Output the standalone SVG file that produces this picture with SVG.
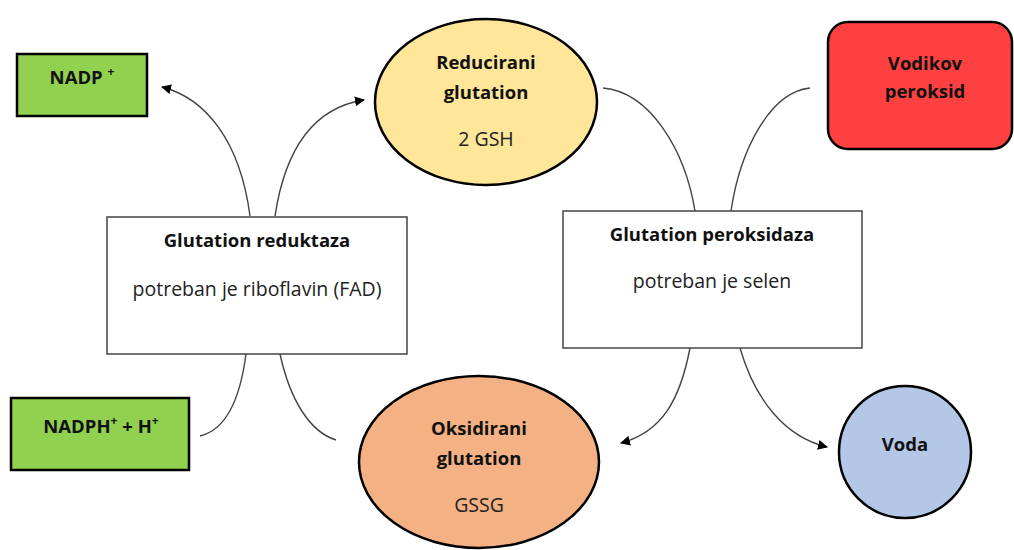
<svg xmlns="http://www.w3.org/2000/svg" width="1014" height="550" viewBox="0 0 1014 550">
<style>
.b{font-family:"Open Sans","DejaVu Sans",sans-serif;font-weight:bold;font-size:18.5px;fill:#111;text-anchor:middle}
.r{font-family:"Open Sans","DejaVu Sans",sans-serif;font-size:19.5px;fill:#222;text-anchor:middle}
.s{stroke:#000;stroke-width:2.5}
.box{fill:#fff;stroke:#444;stroke-width:1.5}
.c{fill:none;stroke:#444;stroke-width:1.4}
.a{marker-end:url(#ah)}
</style>
<defs>
<marker id="ah" viewBox="0 0 10 10" refX="9" refY="5" markerWidth="10" markerHeight="10" markerUnits="userSpaceOnUse" orient="auto"><path d="M0,0 L10,5 L0,10 z" fill="#000"/></marker>
</defs>
<rect width="1014" height="550" fill="#fff"/>
<g id="connectors">
<path class="c a" d="M250,216 C240,140 205,98 162,87"/>
<path class="c a" d="M275,216 C285,150 312,108 364,100"/>
<path class="c" d="M200,436 C225,430 240,400 246,354"/>
<path class="c" d="M280,354 C290,400 310,432 336,440"/>
<path class="c" d="M603,88 C650,92 685,150 695,211"/>
<path class="c" d="M810,88 C770,92 740,150 731,211"/>
<path class="c a" d="M690,348 C680,400 662,432 621,443"/>
<path class="c a" d="M740,348 C755,400 785,437 827,447"/>
</g>
<g id="nadp">
<rect x="17" y="54" width="130" height="62" fill="#92d050" class="s"/>
<text class="b" x="82" y="84">NADP <tspan font-size="12" dy="-8">+</tspan></text>
</g>
<g id="nadph">
<rect x="11" y="398" width="178" height="72" fill="#92d050" class="s"/>
<text class="b" x="101" y="433">NADPH<tspan font-size="12" dy="-8">+</tspan><tspan dy="8"> + H</tspan><tspan font-size="12" dy="-8">+</tspan></text>
</g>
<g id="reduktaza">
<rect x="107" y="217" width="300" height="137" class="box"/>
<text class="b" x="257" y="247">Glutation reduktaza</text>
<text class="r" x="257" y="296">potreban je riboflavin (FAD)</text>
</g>
<g id="reducirani">
<ellipse cx="486" cy="102" rx="111" ry="83" fill="#ffe699" class="s"/>
<text class="b" x="486" y="69">Reducirani</text>
<text class="b" x="486" y="99">glutation</text>
<text class="r" x="486" y="146">2 GSH</text>
</g>
<g id="peroksidaza">
<rect x="563" y="211" width="299" height="137" class="box"/>
<text class="b" x="712" y="241">Glutation peroksidaza</text>
<text class="r" x="712" y="288">potreban je selen</text>
</g>
<g id="vodikov">
<rect x="828" y="22" width="184" height="127" rx="20" fill="#ff4040" class="s"/>
<text class="b" x="925" y="70">Vodikov</text>
<text class="b" x="925" y="98">peroksid</text>
</g>
<g id="oksidirani">
<ellipse cx="479" cy="462" rx="120" ry="86" fill="#f4b183" class="s"/>
<text class="b" x="479" y="435">Oksidirani</text>
<text class="b" x="479" y="465">glutation</text>
<text class="r" x="479" y="512">GSSG</text>
</g>
<g id="voda">
<circle cx="905" cy="452" r="66" fill="#b4c7e7" class="s"/>
<text class="b" x="905" y="451">Voda</text>
</g>
</svg>
